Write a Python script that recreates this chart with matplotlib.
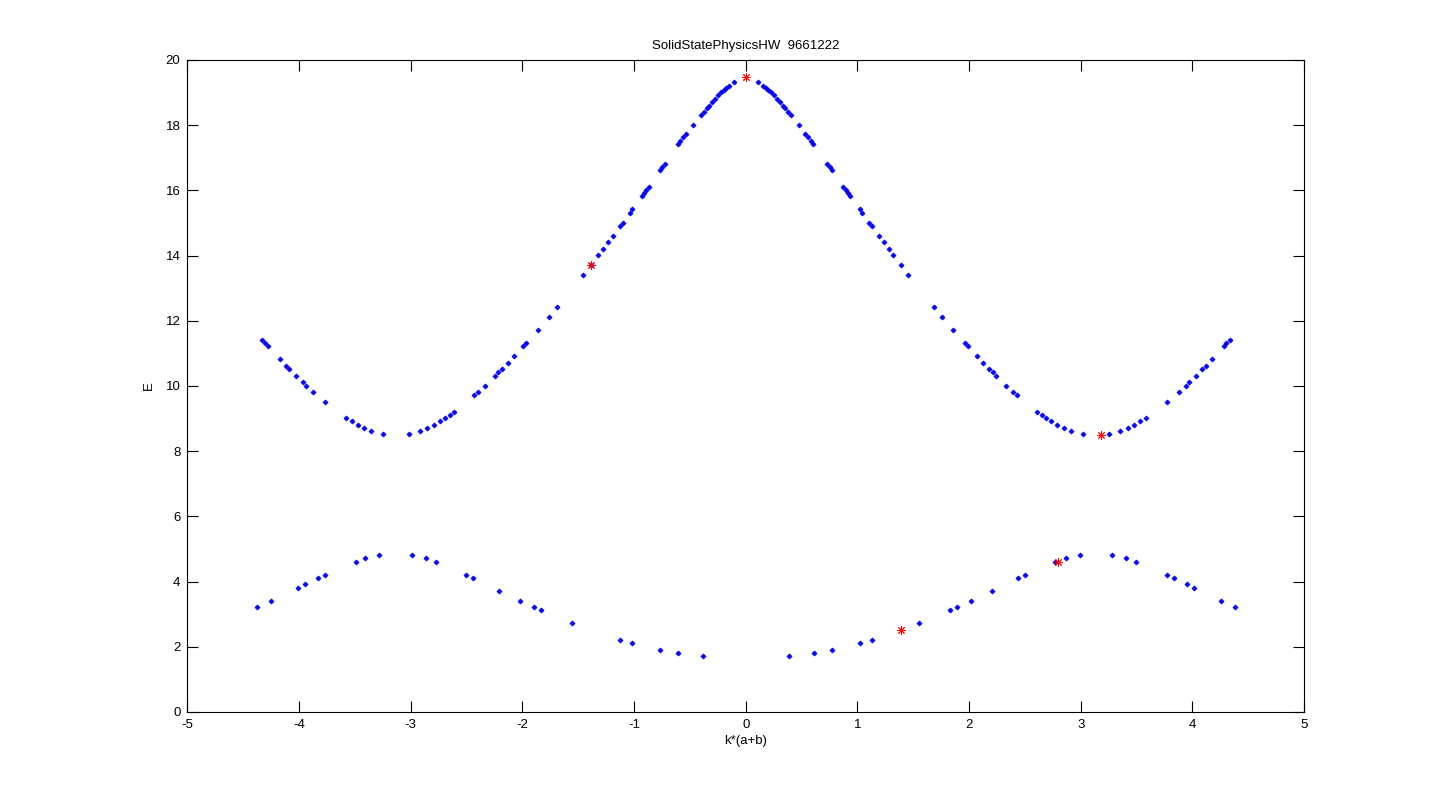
import matplotlib.pyplot as plt
import numpy as np

plt.rcParams['font.family'] = ['Liberation Sans', 'DejaVu Sans']
plt.rcParams['axes.unicode_minus'] = False

# upper band (left half then right half)
k_up = [-4.335, -4.305, -4.279, -4.171, -4.118, -4.088, -4.029, -3.966, -3.939, -3.877,
        -3.770, -3.582, -3.529, -3.475, -3.421, -3.353, -3.252, -3.016, -2.913, -2.850,
        -2.788, -2.734, -2.689, -2.650, -2.609, -2.430, -2.395, -2.332, -2.243, -2.216,
        -2.180, -2.127, -2.073, -1.993, -1.966, -1.859, -1.761, -1.689, -1.457, -1.388,
        -1.323, -1.279, -1.234, -1.189, -1.127, -1.100, -1.038, -1.020, -0.930, -0.913,
        -0.895, -0.868, -0.770, -0.752, -0.725, -0.603, -0.585, -0.558, -0.531, -0.475,
        -0.404, -0.377, -0.350, -0.332, -0.305, -0.279, -0.252, -0.225, -0.198, -0.180,
        -0.154, -0.109,
        0.109, 0.154, 0.180, 0.198, 0.225, 0.252, 0.279, 0.305, 0.332, 0.350,
        0.377, 0.404, 0.475, 0.531, 0.558, 0.585, 0.603, 0.725, 0.752, 0.770,
        0.868, 0.895, 0.913, 0.930, 1.020, 1.038, 1.100, 1.127, 1.189, 1.234,
        1.279, 1.323, 1.388, 1.457, 1.689, 1.761, 1.859, 1.966, 1.993, 2.073,
        2.127, 2.180, 2.216, 2.243, 2.332, 2.395, 2.430, 2.609, 2.650, 2.689,
        2.734, 2.788, 2.850, 2.913, 3.016, 3.252, 3.353, 3.421, 3.475, 3.529,
        3.582, 3.770, 3.877, 3.939, 3.966, 4.029, 4.088, 4.118, 4.171, 4.279,
        4.305, 4.335]
E_up = [11.41, 11.33, 11.23, 10.82, 10.60, 10.51, 10.30, 10.11, 9.99, 9.81,
        9.51, 9.01, 8.92, 8.79, 8.70, 8.61, 8.52, 8.52, 8.61, 8.70,
        8.79, 8.92, 9.01, 9.10, 9.19, 9.71, 9.81, 9.99, 10.30, 10.42,
        10.51, 10.70, 10.91, 11.22, 11.31, 11.71, 12.11, 12.41, 13.40, 13.70,
        14.01, 14.19, 14.41, 14.59, 14.90, 14.99, 15.30, 15.42, 15.82, 15.91,
        16.00, 16.10, 16.62, 16.71, 16.80, 17.41, 17.51, 17.63, 17.72, 18.00,
        18.30, 18.40, 18.52, 18.58, 18.70, 18.79, 18.92, 19.01, 19.07, 19.13,
        19.19, 19.31,
        19.31, 19.19, 19.13, 19.07, 19.01, 18.92, 18.79, 18.70, 18.58, 18.52,
        18.40, 18.30, 18.00, 17.72, 17.63, 17.51, 17.41, 16.80, 16.71, 16.62,
        16.10, 16.00, 15.91, 15.82, 15.42, 15.30, 14.99, 14.90, 14.59, 14.41,
        14.19, 14.01, 13.70, 13.40, 12.41, 12.11, 11.71, 11.31, 11.22, 10.91,
        10.70, 10.51, 10.42, 10.30, 9.99, 9.81, 9.71, 9.19, 9.10, 9.01,
        8.92, 8.79, 8.70, 8.61, 8.52, 8.52, 8.61, 8.70, 8.79, 8.92,
        9.01, 9.51, 9.81, 9.99, 10.11, 10.30, 10.51, 10.60, 10.82, 11.23,
        11.33, 11.41]

# lower band
k_low = [-4.377, -4.252, -4.011, -3.948, -3.832, -3.770, -3.493, -3.409, -3.284, -2.989,
         -2.864, -2.770, -2.502, -2.439, -2.207, -2.020, -1.895, -1.832, -1.555, -1.127,
         -1.020, -0.770, -0.609, -0.386,
         0.386, 0.609, 0.770, 1.020, 1.127, 1.555, 1.832, 1.895, 2.020, 2.207,
         2.439, 2.502, 2.770, 2.864, 2.989, 3.284, 3.409, 3.493, 3.770, 3.832,
         3.948, 4.011, 4.252, 4.377]
E_low = [3.21, 3.40, 3.79, 3.92, 4.10, 4.19, 4.59, 4.71, 4.81, 4.81,
         4.71, 4.59, 4.19, 4.10, 3.70, 3.40, 3.21, 3.12, 2.72, 2.20,
         2.11, 1.89, 1.80, 1.71,
         1.71, 1.80, 1.89, 2.11, 2.20, 2.72, 3.12, 3.21, 3.40, 3.70,
         4.10, 4.19, 4.59, 4.71, 4.81, 4.81, 4.71, 4.59, 4.19, 4.10,
         3.92, 3.79, 3.40, 3.21]

# marked points (red stars)
k_mark = [-1.388, 0.0, 3.185, 1.388, 2.793]
E_mark = [13.70, 19.47, 8.49, 2.51, 4.59]

fig = plt.figure(figsize=(14.41, 8), dpi=100)
ax = fig.add_axes([0.13, 0.11, 0.775, 0.815])

ax.plot(k_up, E_up, 'D', color='#0000ff', markersize=2.6, markeredgewidth=0.5, linestyle='none')
ax.plot(k_low, E_low, 'D', color='#0000ff', markersize=2.6, markeredgewidth=0.5, linestyle='none')
ax.plot(k_mark, E_mark, linestyle='none', marker=(8, 2, 0), color='#ff0000',
        markersize=6, markeredgewidth=0.7)

ax.set_xlim(-5, 5)
ax.set_ylim(0, 20)
ax.set_xticks(np.arange(-5, 6, 1))
ax.set_yticks(np.arange(0, 21, 2))
ax.tick_params(direction='in', length=8, width=0.8, top=True, right=True,
               labelsize=9.5, pad=5)
for s in ax.spines.values():
    s.set_linewidth(0.8)

ax.set_title('SolidStatePhysicsHW  9661222', fontsize=9.5, pad=8)
ax.set_xlabel('k*(a+b)', fontsize=9.5, labelpad=3)
ax.set_ylabel('E', fontsize=9.5, labelpad=8)

fig.savefig('out.png', dpi=100, facecolor='white')
